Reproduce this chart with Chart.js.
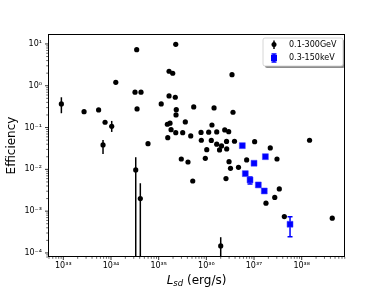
<!DOCTYPE html>
<html>
<head>
<meta charset="utf-8">
<script src="https://cdn.jsdelivr.net/npm/chart.js@4/dist/chart.umd.min.js"></script>
<style>
  html, body { margin: 0; padding: 0; background: #fff; }
</style>
</head>
<body>
<canvas id="effChart" width="384" height="288"></canvas>
<script>
// 0.1-300GeV, points without error bars
const gevL = [2.72e33, 5.5e33, 1.26e34, 3.46e34, 3.19e34, 4.26e34, 3.52e34, 7.5e33, 5.97e34,
  2.28e35, 1.65e35, 1.97e35, 3.45e36, 1.65e35, 2.23e35, 1.13e35, 2.34e35, 5.43e35, 1.45e36,
  3.62e36, 2.31e35, 3.62e35, 1.52e35, 1.73e35, 1.82e35, 1.31e36, 2.28e35, 3.19e35, 1.55e35,
  4.7e35, 7.73e35, 1.12e36, 1.65e36, 2.43e36, 2.94e36, 7.84e35, 1.27e36, 1.65e36, 2.08e36,
  1.89e36, 2.65e36, 3.89e36, 2.67e36, 1.02e36, 2.98e35, 4.12e35, 9.5e35, 2.99e36, 3.21e36,
  4.72e36, 5.18e35, 2.58e36, 1.03e37, 1.46e38, 2.19e37, 7.0e36, 3.03e37, 3.39e37, 2.72e37,
  1.78e37, 4.32e37, 4.37e38];
const gevEff = [0.24, 0.264, 1.21, 7.3, 0.70, 0.70, 0.279, 0.134, 0.0412,
  9.8, 2.22, 1.99, 1.84, 0.57, 0.531, 0.367, 0.268, 0.311, 0.294,
  0.232, 0.2, 0.136, 0.12, 0.127, 0.089, 0.115, 0.0755, 0.0755, 0.0573,
  0.063, 0.0763, 0.0773, 0.0786, 0.0877, 0.0798, 0.0497, 0.0491, 0.0401, 0.0363,
  0.0291, 0.0465, 0.047, 0.0308, 0.0296, 0.0177, 0.015, 0.0184, 0.0153, 0.0106,
  0.0112, 0.00527, 0.006, 0.046, 0.0497, 0.0325, 0.0168, 0.0177, 0.0034, 0.00213,
  0.00155, 0.00074, 0.00068];

// 0.1-300GeV, points with error bars (lower ends below the axis are clipped)
const gevBarL = [9.1e32, 1.035e34, 6.8e33, 3.3e34, 4.12e34, 2.0e36];
const gevBarEff = [0.367, 0.107, 0.0384, 0.0097, 0.002, 0.000147];
const gevBarLo = [0.22, 0.0785, 0.0233, 1e-6, 1e-6, 1e-6];
const gevBarHi = [0.53, 0.144, 0.0505, 0.0195, 0.00465, 0.000238];

// 0.3-150keV
const kevL = [5.68e36, 1.73e37, 1.0e37, 6.56e36, 8.24e36, 1.23e37, 1.64e37, 5.69e37];
const kevEff = [0.0369, 0.0201, 0.014, 0.0079, 0.00557, 0.00424, 0.00304, 0.000486];
const kevLo = [null, null, null, null, 0.00448, null, null, 0.000245];
const kevHi = [null, null, null, null, 0.00658, null, null, 0.000738];

const xDecades = [32, 33, 34, 35, 36, 37, 38];
const yDecades = [-5, -4, -3, -2, -1, 0, 1];
const legendLabels = ["0.1-300GeV", "0.3-150keV"];

const sup = { "-": "\u207b", "0": "\u2070", "1": "\u00b9", "2": "\u00b2", "3": "\u00b3", "4": "\u2074",
  "5": "\u2075", "6": "\u2076", "7": "\u2077", "8": "\u2078", "9": "\u2079" };

function logTicks(decades) {
  const out = [];
  decades.forEach(d => {
    for (let s = 1; s <= 9; s++) out.push({ value: s * Math.pow(10, d), major: s === 1 });
  });
  return out;
}

function powLabel(v) {
  const e = Math.round(Math.log10(v));
  if (Math.abs(v / Math.pow(10, e) - 1) > 1e-6) return "";
  return "10" + String(e).split("").map(c => sup[c]).join("");
}

const gevPoints = gevL.map((x, i) => ({ x: x, y: gevEff[i] }))
  .concat(gevBarL.map((x, i) => ({ x: x, y: gevBarEff[i], lo: gevBarLo[i], hi: gevBarHi[i] })));
const kevPoints = kevL.map((x, i) => ({ x: x, y: kevEff[i], lo: kevLo[i], hi: kevHi[i] }));

const FONT = "DejaVu Sans";

const decor = {
  id: "decor",
  beforeDatasetsDraw(chart) {
    const ctx = chart.ctx, a = chart.chartArea;
    const xs = chart.scales.x, ys = chart.scales.y;
    ctx.save();
    ctx.beginPath();
    ctx.rect(a.left, a.top, a.right - a.left, a.bottom - a.top);
    ctx.clip();
    chart.data.datasets.forEach(ds => {
      ds.data.forEach(p => {
        if (p.lo == null) return;
        const px = xs.getPixelForValue(p.x);
        const y1 = ys.getPixelForValue(p.lo), y2 = ys.getPixelForValue(p.hi);
        ctx.strokeStyle = ds.barColor;
        ctx.lineWidth = 1.5;
        ctx.beginPath();
        ctx.moveTo(px, y1); ctx.lineTo(px, y2);
        if (ds.cap) {
          ctx.moveTo(px - ds.cap, y1); ctx.lineTo(px + ds.cap, y1);
          ctx.moveTo(px - ds.cap, y2); ctx.lineTo(px + ds.cap, y2);
        }
        ctx.stroke();
      });
    });
    ctx.restore();
  },
  afterDraw(chart) {
    const ctx = chart.ctx, a = chart.chartArea;
    const xs = chart.scales.x, ys = chart.scales.y;
    ctx.save();
    // frame
    ctx.strokeStyle = "#000";
    ctx.lineWidth = 1;
    ctx.strokeRect(a.left + 0.5, a.top + 0.5, a.right - a.left - 1, a.bottom - a.top - 1);
    // tick marks
    xs.ticks.forEach(t => {
      const px = xs.getPixelForValue(t.value);
      ctx.lineWidth = t.major ? 0.8 : 0.6;
      ctx.beginPath();
      ctx.moveTo(px, a.bottom); ctx.lineTo(px, a.bottom + (t.major ? 3 : 1.8));
      ctx.stroke();
    });
    ys.ticks.forEach(t => {
      const py = ys.getPixelForValue(t.value);
      ctx.lineWidth = t.major ? 0.8 : 0.6;
      ctx.beginPath();
      ctx.moveTo(a.left, py); ctx.lineTo(a.left - (t.major ? 3 : 1.8), py);
      ctx.stroke();
    });
    // axis titles
    ctx.fillStyle = "#000";
    ctx.textBaseline = "alphabetic";
    const cx = (a.left + a.right) / 2;
    ctx.font = "italic 12px " + FONT;
    const wL = ctx.measureText("L").width;
    ctx.font = "italic 8.5px " + FONT;
    const wS = ctx.measureText("sd").width;
    ctx.font = "12px " + FONT;
    const wR = ctx.measureText(" (erg/s)").width;
    let tx = cx - (wL + wS + wR) / 2;
    const by = 284;
    ctx.textAlign = "left";
    ctx.font = "italic 12px " + FONT;
    ctx.fillText("L", tx, by); tx += wL;
    ctx.font = "italic 8.5px " + FONT;
    ctx.fillText("sd", tx, by + 2); tx += wS;
    ctx.font = "12px " + FONT;
    ctx.fillText(" (erg/s)", tx, by);
    ctx.save();
    ctx.translate(12, (a.top + a.bottom) / 2);
    ctx.rotate(-Math.PI / 2);
    ctx.textAlign = "center";
    ctx.textBaseline = "middle";
    ctx.font = "12px " + FONT;
    ctx.fillText("Efficiency", 0, 0);
    ctx.restore();
    // legend
    const lx = 263, ly = 38, lw = 80, lh = 28;
    ctx.fillStyle = "rgba(0,0,0,0.45)";
    ctx.beginPath(); ctx.roundRect(lx + 2, ly + 2, lw, lh, 2); ctx.fill();
    ctx.fillStyle = "#fff";
    ctx.strokeStyle = "#ccc";
    ctx.lineWidth = 0.8;
    ctx.beginPath(); ctx.roundRect(lx, ly, lw, lh, 2); ctx.fill(); ctx.stroke();
    // black entry
    ctx.strokeStyle = "#000"; ctx.lineWidth = 1.5;
    ctx.beginPath(); ctx.moveTo(274, 40.5); ctx.lineTo(274, 49); ctx.stroke();
    ctx.fillStyle = "#000";
    ctx.beginPath(); ctx.arc(274, 44.5, 2.5, 0, Math.PI * 2); ctx.fill();
    // blue entry
    ctx.strokeStyle = "#0000ff";
    ctx.beginPath();
    ctx.moveTo(274, 54); ctx.lineTo(274, 62);
    ctx.moveTo(271.5, 54); ctx.lineTo(276.5, 54);
    ctx.moveTo(271.5, 62); ctx.lineTo(276.5, 62);
    ctx.stroke();
    ctx.fillStyle = "#0000ff";
    ctx.fillRect(271, 55, 6, 6);
    ctx.fillStyle = "#000";
    ctx.font = "8px " + FONT;
    ctx.textAlign = "left";
    ctx.textBaseline = "middle";
    ctx.fillText(legendLabels[0], 289, 44.5);
    ctx.fillText(legendLabels[1], 289, 58);
    ctx.restore();
  }
};

new Chart(document.getElementById("effChart"), {
  type: "scatter",
  data: {
    datasets: [
      {
        label: legendLabels[0],
        data: gevPoints,
        backgroundColor: "#000",
        borderColor: "#000",
        pointRadius: 2.6,
        pointBorderWidth: 0,
        barColor: "#000",
        cap: 0
      },
      {
        label: legendLabels[1],
        data: kevPoints,
        pointStyle: "rect",
        backgroundColor: "#0000ff",
        borderColor: "#3a3aff",
        pointRadius: 4.2,
        pointBorderWidth: 0.5,
        barColor: "#0000ff",
        cap: 2.5
      }
    ]
  },
  options: {
    responsive: false,
    animation: false,
    devicePixelRatio: 1,
    layout: { padding: { top: 34, right: 39, left: 0, bottom: 0 } },
    plugins: { legend: { display: false }, tooltip: { enabled: false } },
    scales: {
      x: {
        type: "logarithmic",
        min: 4.77e32,
        max: 8.09e38,
        grid: { display: false, drawTicks: false },
        border: { display: false },
        ticks: {
          autoSkip: false,
          maxRotation: 0,
          padding: 4,
          color: "#000",
          font: { family: FONT, size: 8 },
          callback: v => powLabel(v)
        },
        afterBuildTicks: s => { s.ticks = logTicks(xDecades).filter(t => t.value >= s.min && t.value <= s.max); },
        afterFit: s => { s.height = 31; }
      },
      y: {
        type: "logarithmic",
        min: 8.0e-5,
        max: 17.3,
        grid: { display: false, drawTicks: false },
        border: { display: false },
        ticks: {
          autoSkip: false,
          padding: 6,
          color: "#000",
          font: { family: FONT, size: 8 },
          callback: v => powLabel(v)
        },
        afterBuildTicks: s => { s.ticks = logTicks(yDecades).filter(t => t.value >= s.min && t.value <= s.max); },
        afterFit: s => { s.width = 48; }
      }
    }
  },
  plugins: [decor]
});
</script>
</body>
</html>
